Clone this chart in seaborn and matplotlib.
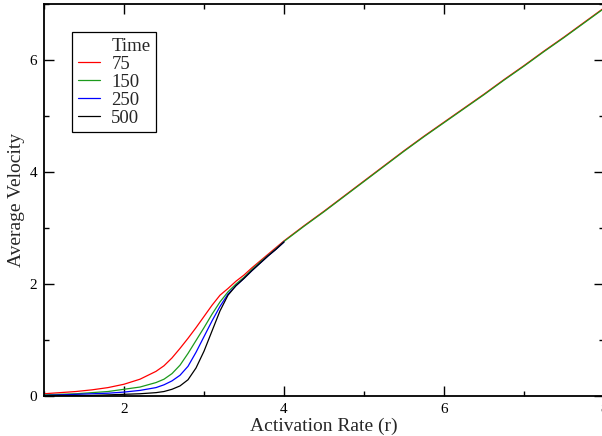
import numpy as np
import pandas as pd
import matplotlib
matplotlib.use("Agg")
import matplotlib.pyplot as plt
from matplotlib.lines import Line2D
from matplotlib.ticker import MultipleLocator
import seaborn as sns

# 数据
x_low = [1.0, 1.2, 1.4, 1.6, 1.8, 2.0, 2.2, 2.4, 2.5, 2.6, 2.7, 2.8, 2.9,
         3.0, 3.1, 3.2, 3.3, 3.4, 3.5, 3.6, 3.7, 3.8, 3.9, 4.0]
x_high = [4.25, 4.5, 4.75, 5.0, 5.25, 5.5, 5.75, 6.0, 6.25, 6.5, 6.75,
          7.0, 7.25, 7.5, 7.75, 8.0]

v75_low = [0.04, 0.06, 0.08, 0.11, 0.15, 0.21, 0.30, 0.44, 0.54, 0.68, 0.85, 1.03, 1.22,
           1.42, 1.62, 1.80, 1.92, 2.05, 2.16, 2.29, 2.41, 2.53, 2.65, 2.77]
v150_low = [0.02, 0.03, 0.04, 0.06, 0.08, 0.12, 0.16, 0.24, 0.30, 0.40, 0.55, 0.76, 0.99,
            1.22, 1.46, 1.68, 1.86, 2.00, 2.12, 2.26, 2.39, 2.51, 2.63, 2.76]
v250_low = [0.01, 0.02, 0.03, 0.04, 0.05, 0.07, 0.10, 0.15, 0.20, 0.27, 0.37, 0.53, 0.78,
            1.06, 1.34, 1.60, 1.82, 1.97, 2.10, 2.24, 2.37, 2.50, 2.62, 2.75]
v500_low = [0.00, 0.01, 0.01, 0.01, 0.02, 0.03, 0.04, 0.06, 0.08, 0.12, 0.18, 0.29, 0.50,
            0.80, 1.16, 1.52, 1.80, 1.97, 2.10, 2.24, 2.37, 2.50, 2.62, 2.75]

v75_high = [3.04, 3.30, 3.57, 3.84, 4.11, 4.38, 4.64, 4.89, 5.14, 5.39, 5.65,
            5.90, 6.16, 6.41, 6.67, 6.93]
v150_high = [3.03, 3.29, 3.56, 3.83, 4.10, 4.37, 4.63, 4.88, 5.13, 5.38, 5.64,
             5.89, 6.15, 6.40, 6.66, 6.92]

times = ["75", "150", "250", "500"]
colors = ["#ff0000", "#1c9a1c", "#0000ff", "#000000"]

# 长格式数据表
frames = [
    pd.DataFrame({"r": x_low + x_high, "v": v75_low + v75_high, "Time": "75"}),
    pd.DataFrame({"r": x_low + x_high, "v": v150_low + v150_high, "Time": "150"}),
    pd.DataFrame({"r": x_low, "v": v250_low, "Time": "250"}),
    pd.DataFrame({"r": x_low, "v": v500_low, "Time": "500"}),
]
df = pd.concat(frames, ignore_index=True)

sns.set_style("ticks")
plt.rcParams['font.family'] = ['Liberation Serif', 'DejaVu Serif']

fig = plt.figure(figsize=(6.02, 4.36), dpi=100)
ax = fig.add_axes([44 / 602, 40 / 436, 560 / 602, 392 / 436])

sns.lineplot(data=df, x="r", y="v", hue="Time", hue_order=times,
             palette=dict(zip(times, colors)), estimator=None, sort=True,
             linewidth=0.9, ax=ax)

ax.set_xlim(1, 8)
ax.set_ylim(0, 7)
ax.set_xticks([2, 4, 6, 8])
ax.xaxis.set_minor_locator(MultipleLocator(1))
ax.yaxis.set_major_locator(MultipleLocator(2))
ax.yaxis.set_minor_locator(MultipleLocator(1))
ax.tick_params(which="both", direction="in", top=True, right=True,
               colors="black", labelsize=11)
ax.tick_params(which="major", length=7, width=1.0, pad=5)
ax.tick_params(which="minor", length=3.5, width=1.0)
for s in ax.spines.values():
    s.set_linewidth(1.3)
    s.set_color("black")

ax.set_xlabel("Activation Rate (r)", fontsize=14, labelpad=1)
ax.set_ylabel("Average Velocity", fontsize=14, labelpad=3)

# 图例：把 "Time" 作为第一行
handles, labels = ax.get_legend_handles_labels()
blank = Line2D([], [], color="none")
ax.legend([blank] + handles, ["Time"] + labels,
          loc="upper left", bbox_to_anchor=(0.05, 0.929), borderaxespad=0,
          frameon=True, fancybox=False, framealpha=1, edgecolor="black",
          fontsize=13.5, handlelength=1.2, handletextpad=0.6,
          labelspacing=0.05, borderpad=0.3)
ax.get_legend().get_frame().set_linewidth(0.9)

fig.savefig("out.png", dpi=100)
